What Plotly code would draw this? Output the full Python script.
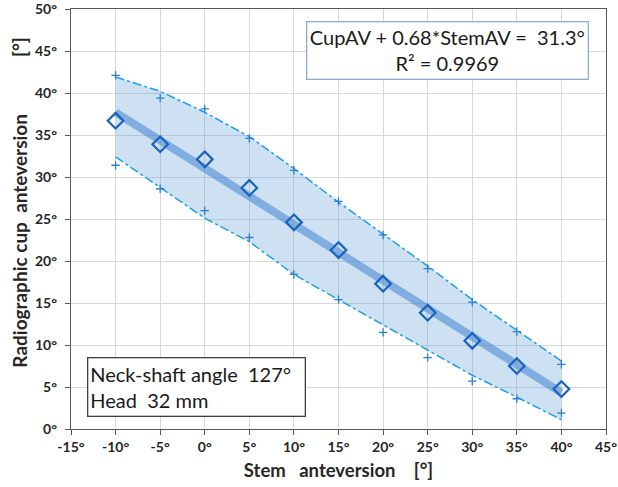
import numpy as np
import plotly.graph_objects as go

stem_av = [-10, -5, 0, 5, 10, 15, 20, 25, 30, 35, 40]
cup_mean = [36.7, 33.9, 32.1, 28.7, 24.6, 21.3, 17.3, 13.85, 10.5, 7.5, 4.76]
cup_max = [42.1, 39.4, 38.1, 34.6, 30.8, 27.1, 23.1, 19.1, 15.1, 11.6, 7.7]
cup_min = [31.4, 28.6, 26.0, 22.8, 18.4, 15.4, 11.5, 8.5, 5.7, 3.6, 1.9]
band_upper = [41.9, 40.2, 37.7, 34.8, 31.0, 27.0, 23.2, 19.4, 15.4, 11.8, 8.1]
band_lower = [32.4, 28.8, 25.1, 22.3, 18.4, 15.4, 12.4, 9.4, 6.4, 3.8, 1.1]
x_ticks = list(range(-15, 50, 5))
x_labels = [f"{v}°" for v in x_ticks]
y_ticks = list(range(0, 55, 5))
y_labels = [f"{v}°" for v in y_ticks]

slope, intercept = np.polyfit(stem_av, cup_mean, 1)
trend = [intercept + slope * x for x in stem_av]

NB = "\u00a0"
EM = "\u2003"
ZW = "\u200b"
FONT = "Lato"

fig = go.Figure()
fig.add_trace(go.Scatter(x=stem_av, y=band_upper, mode="lines",
                         line=dict(color="#1ea0e8", width=1.5, dash="dashdot"),
                         hoverinfo="skip", showlegend=False))
fig.add_trace(go.Scatter(x=stem_av, y=band_lower, mode="lines", fill="tonexty",
                         fillcolor="rgba(91,155,213,0.30)",
                         line=dict(color="#1ea0e8", width=1.5, dash="dashdot"),
                         hoverinfo="skip", showlegend=False))
fig.add_trace(go.Scatter(x=stem_av, y=cup_max, mode="markers",
                         marker=dict(symbol="cross-thin", size=6,
                                     line=dict(color="#2b7fd4", width=1.3)),
                         showlegend=False))
fig.add_trace(go.Scatter(x=stem_av, y=cup_min, mode="markers",
                         marker=dict(symbol="cross-thin", size=6,
                                     line=dict(color="#2b7fd4", width=1.3)),
                         showlegend=False))
fig.add_trace(go.Scatter(x=stem_av, y=trend, mode="lines",
                         line=dict(color="rgba(70,132,212,0.55)", width=8),
                         showlegend=False))
fig.add_trace(go.Scatter(x=stem_av, y=cup_mean, mode="markers",
                         marker=dict(symbol="diamond-open", size=12, color="#1763bd",
                                     line=dict(color="#1763bd", width=2.2)),
                         showlegend=False))

axis_common = dict(showgrid=True, gridcolor="#d9d9d9", gridwidth=1, zeroline=False,
                   showline=True, linecolor="#595959", linewidth=1.3, mirror=True,
                   ticks="outside", ticklen=5, tickcolor="#595959", tickwidth=1.3,
                   automargin=False, ticklabeloverflow="allow",
                   tickfont=dict(family=FONT, size=14, color="#262626", weight="bold"))

fig.update_xaxes(range=[-15, 45], tickvals=x_ticks, ticktext=x_labels,
                 title=dict(text="Stem" + NB * 3 + "anteversion" + EM + NB + "[°]",
                            font=dict(family=FONT, size=18.5, color="#262626", weight="bold"),
                            standoff=10),
                 **axis_common)
fig.update_yaxes(range=[0, 50], tickvals=y_ticks, ticktext=y_labels,
                 ticklabelstandoff=5,
                 title=dict(text=ZW + EM * 2 + NB + "Radiographic cup" + NB * 2 + "anteversion"
                            + EM * 4 + "[°]",
                            font=dict(family=FONT, size=19, color="#262626", weight="bold"),
                            standoff=2),
                 **axis_common)

fig.add_annotation(xref="paper", yref="paper", x=0.704, y=0.9017,
                   xanchor="center", yanchor="middle", showarrow=False,
                   text="CupAV + 0.68*StemAV =" + NB * 2 + "31.3°<br>R² = 0.9969",
                   align="center", width=280, height=56,
                   font=dict(family=FONT, size=20, color="#1a1a1a"),
                   bgcolor="white", bordercolor="#8eaadb", borderwidth=1.3, borderpad=0)
fig.add_annotation(xref="paper", yref="paper", x=0.235, y=0.0995,
                   xanchor="center", yanchor="middle", showarrow=False,
                   text="Neck-shaft angle" + NB * 2 + "127°<br>Head" + NB * 2 + "32 mm",
                   align="left", width=212, height=53,
                   font=dict(family=FONT, size=20, color="#1a1a1a"),
                   bgcolor="white", bordercolor="#404040", borderwidth=1.3, borderpad=2)

fig.update_layout(width=618, height=487, margin=dict(l=71, r=12, t=9, b=58),
                  plot_bgcolor="white", paper_bgcolor="white", showlegend=False)

fig.write_html("out.html", config={"displayModeBar": False},
               post_script="document.body.style.margin='0';")
